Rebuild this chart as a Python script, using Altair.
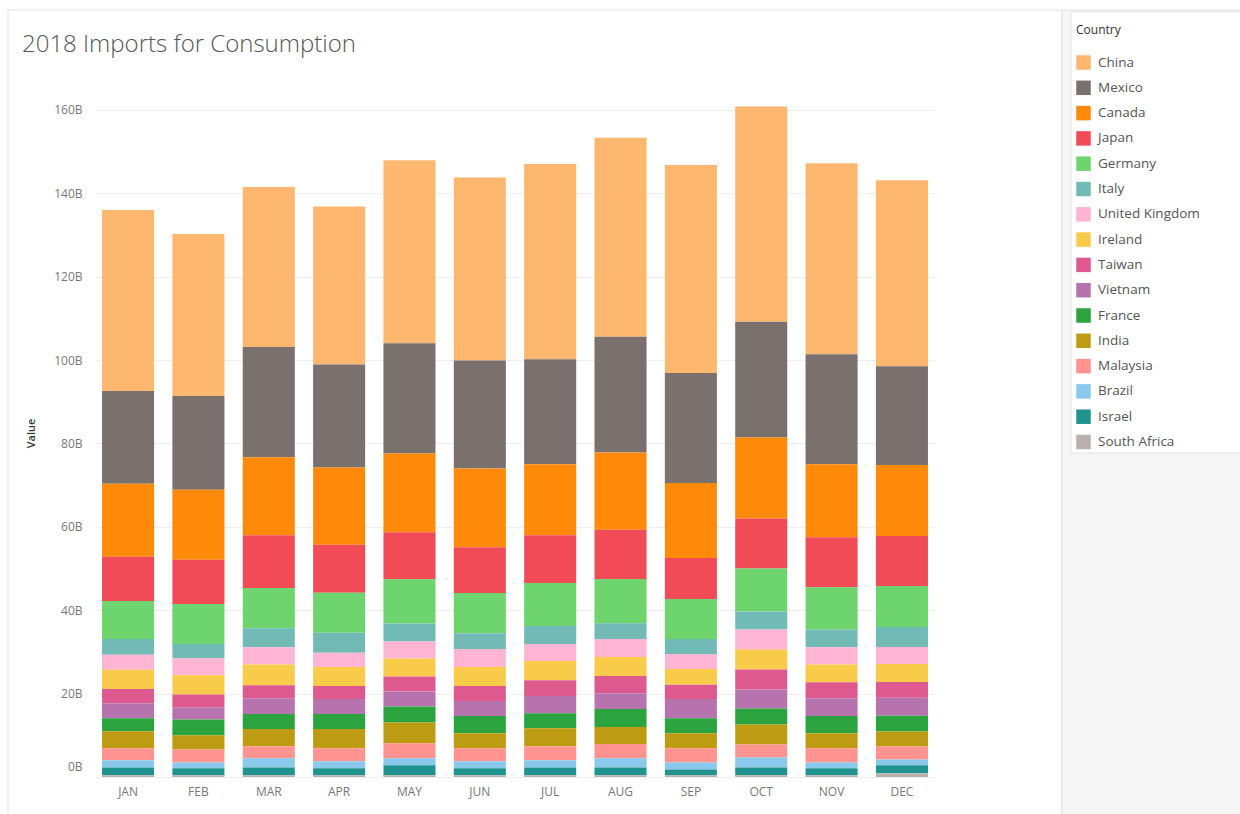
import altair as alt
import pandas as pd

# Monthly 2018 imports for consumption, in billions of US dollars
months = ["JAN", "FEB", "MAR", "APR", "MAY", "JUN", "JUL", "AUG", "SEP", "OCT", "NOV", "DEC"]

countries = [
    "China", "Mexico", "Canada", "Japan", "Germany", "Italy", "United Kingdom",
    "Ireland", "Taiwan", "Vietnam", "France", "India", "Malaysia", "Brazil",
    "Israel", "South Africa",
]

colors = [
    "#FDB76E", "#7A716F", "#FF8A0A", "#F04B57", "#6ED46E", "#72BAB5", "#FDB5D3",
    "#F8CB4A", "#DE5A8E", "#B673AE", "#2BA33F", "#BD9B12", "#FE9390", "#8AC8EC",
    "#21938E", "#BAB0AC",
]

china = [43.4, 38.8, 38.4, 37.9, 43.9, 43.9, 46.8, 47.7, 49.9, 51.6, 45.8, 44.6]
mexico = [22.3, 22.5, 26.4, 24.7, 26.4, 25.9, 25.2, 27.8, 26.4, 27.8, 26.4, 23.7]
canada = [17.5, 16.8, 18.7, 18.5, 18.9, 18.9, 17.0, 18.5, 18.0, 19.4, 17.5, 17.0]
japan = [10.6, 10.6, 12.7, 11.5, 11.3, 11.0, 11.5, 11.8, 9.8, 12.0, 12.0, 12.0]
germany = [9.1, 9.6, 9.6, 9.6, 10.6, 9.6, 10.3, 10.6, 9.6, 10.3, 10.1, 9.8]
italy = [3.8, 3.4, 4.6, 4.8, 4.3, 3.8, 4.3, 3.8, 3.6, 4.3, 4.3, 4.8]
united_kingdom = [3.6, 4.1, 4.1, 3.4, 4.1, 4.3, 4.1, 4.3, 3.6, 4.8, 4.1, 4.1]
ireland = [4.6, 4.6, 5.0, 4.6, 4.3, 4.6, 4.6, 4.6, 3.8, 4.8, 4.3, 4.3]
taiwan = [3.4, 3.1, 3.1, 3.1, 3.6, 3.6, 3.8, 4.1, 3.4, 4.8, 3.8, 3.8]
vietnam = [3.6, 2.9, 3.8, 3.6, 3.6, 3.6, 4.1, 3.8, 4.6, 4.6, 4.3, 4.3]
france = [3.1, 3.8, 3.6, 3.6, 3.8, 4.1, 3.6, 4.3, 3.6, 3.8, 4.1, 3.8]
india = [4.1, 3.4, 4.1, 4.6, 5.0, 3.6, 4.3, 4.1, 3.6, 4.8, 3.6, 3.6]
malaysia = [2.9, 3.1, 2.9, 3.1, 3.6, 3.1, 3.4, 3.4, 3.4, 3.1, 3.4, 3.1]
brazil = [1.7, 1.4, 2.2, 1.7, 1.7, 1.7, 1.7, 2.2, 1.7, 2.4, 1.4, 1.4]
israel = [1.9, 1.7, 1.9, 1.7, 2.4, 1.7, 1.9, 1.9, 1.4, 1.9, 1.7, 1.9]
south_africa = [0.4, 0.4, 0.4, 0.4, 0.4, 0.4, 0.4, 0.4, 0.4, 0.4, 0.4, 0.9]

series = [
    china, mexico, canada, japan, germany, italy, united_kingdom, ireland,
    taiwan, vietnam, france, india, malaysia, brazil, israel, south_africa,
]

y_ticks = [0, 20, 40, 60, 80, 100, 120, 140, 160]

rows = []
for i, (country, values) in enumerate(zip(countries, series)):
    for month, v in zip(months, values):
        # South Africa sits at the bottom of each stack, China on top
        rows.append({"Month": month, "Country": country, "Value": v,
                     "StackOrder": len(countries) - 1 - i})
df = pd.DataFrame(rows)

FONT = "Open Sans"

bars = alt.Chart(df).mark_bar().encode(
    x=alt.X(
        "Month:N",
        sort=months,
        title=None,
        scale=alt.Scale(paddingInner=0.26, paddingOuter=0.1),
        axis=alt.Axis(labelAngle=0, ticks=False, domain=False, grid=False,
                      labelPadding=9, labelColor="#777777", labelFontSize=12,
                      labelFont=FONT),
    ),
    y=alt.Y(
        "Value:Q",
        title="Value",
        stack="zero",
        scale=alt.Scale(domain=[0, 165], nice=False),
        axis=alt.Axis(values=y_ticks, labelExpr="datum.value + 'B'",
                      ticks=False, domain=False, grid=True, gridColor="#eeeeee",
                      labelPadding=13, labelColor="#777777", labelFontSize=12,
                      labelFont=FONT, labelFlush=True, labelFlushOffset=-4,
                      titleFont=FONT, titleFontSize=11, titleFontWeight=600,
                      titleColor="#333333", titlePadding=17),
    ),
    color=alt.Color(
        "Country:N",
        scale=alt.Scale(domain=countries, range=colors),
        legend=alt.Legend(
            title="Country", orient="none", legendX=981, legendY=-64,
            symbolType="square", symbolSize=210, symbolStrokeWidth=0,
            symbolOpacity=1, rowPadding=10.3, labelOffset=7,
            labelFontSize=13.5, labelColor="#555555", labelFont=FONT,
            titleFontSize=12, titleColor="#333333", titleFont=FONT,
            titleFontWeight="normal", titlePadding=18,
        ),
    ),
    order=alt.Order("StackOrder:Q", sort="ascending"),
)

# dashboard frame, side panel and legend card
one = pd.DataFrame({"k": [0]})
frame = alt.Chart(one).mark_rect(fillOpacity=0, stroke="#e2e2e2", strokeWidth=1).encode(
    x=alt.value(-87), x2=alt.value(967), y=alt.value(-79), y2=alt.value(740)
)
panel = alt.Chart(one).mark_rect(fill="#f6f6f6", stroke="#e2e2e2", strokeWidth=1).encode(
    x=alt.value(967), x2=alt.value(1160), y=alt.value(-79), y2=alt.value(740)
)
card = alt.Chart(one).mark_rect(fill="#ffffff", stroke="#e2e2e2", strokeWidth=1).encode(
    x=alt.value(976), x2=alt.value(1160), y=alt.value(-77), y2=alt.value(364)
)

chart = alt.layer(frame, panel, card, bars).properties(
    width=840,
    height=688,
    autosize=alt.AutoSizeParams(type="none"),
    padding={"left": 95, "top": 89, "right": 305, "bottom": 37},
    background="#ffffff",
    title=alt.TitleParams(
        "2018 Imports for Consumption", anchor="start", frame="group",
        dx=-73, dy=47, offset=0, fontSize=24, font=FONT, fontWeight=300,
        color="#555555",
    ),
).configure_view(stroke=None)

chart.save("out.html", embed_options={"renderer": "svg", "actions": False})
